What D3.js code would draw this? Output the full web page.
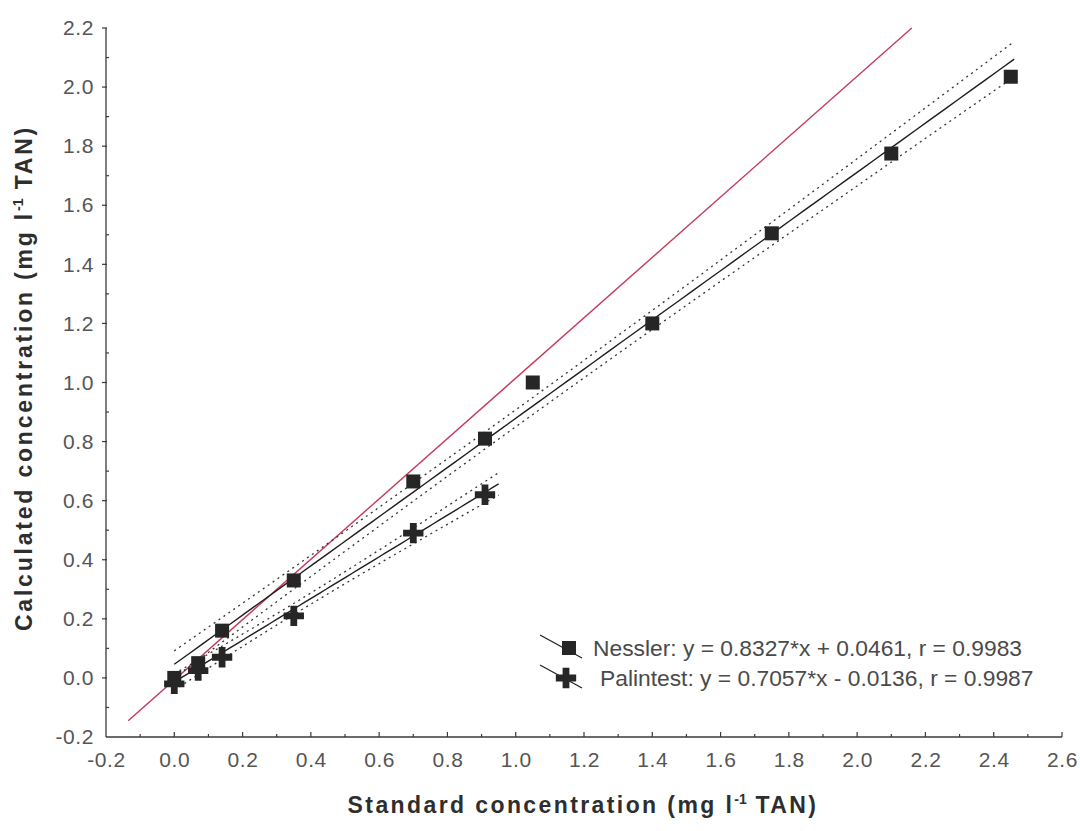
<!DOCTYPE html>
<html>
<head>
<meta charset="utf-8">
<script src="https://cdn.jsdelivr.net/npm/d3@7"></script>
<style>
  html, body { margin: 0; padding: 0; background: #fff; }
  svg { display: block; font-family: "Liberation Sans", Arial, sans-serif; }
</style>
</head>
<body>
<svg id="chart" width="1080" height="831"></svg>
<script>
// Standard (x) vs calculated (y) ammonia concentrations, mg/l TAN
const nesslerX = [0.00, 0.07, 0.14, 0.35, 0.70, 0.91, 1.05, 1.40, 1.75, 2.10, 2.45];
const nesslerY = [0.00, 0.05, 0.16, 0.33, 0.665, 0.81, 1.00, 1.20, 1.505, 1.775, 2.035];
const palintestX = [0.00, 0.07, 0.14, 0.35, 0.70, 0.91];
const palintestY = [-0.02, 0.025, 0.07, 0.21, 0.49, 0.62];

// Fitted regression coefficients [slope, intercept]
const nesslerFit = [0.8327, 0.0461];
const palintestFit = [0.7057, -0.0136];
const fitRangeNessler = [0.0, 2.46];
const fitRangePalintest = [0.0, 0.95];

// Reference (1:1) line end points
const refLineX = [-0.135, 2.16];
const refLineY = [-0.145, 2.2];

const legendLabels = [
  "Nessler: y = 0.8327*x + 0.0461, r = 0.9983",
  "Palintest: y = 0.7057*x - 0.0136, r = 0.9987"
];
const xTicks = [-0.2, 0.0, 0.2, 0.4, 0.6, 0.8, 1.0, 1.2, 1.4, 1.6, 1.8, 2.0, 2.2, 2.4, 2.6];
const yTicks = [-0.2, 0.0, 0.2, 0.4, 0.6, 0.8, 1.0, 1.2, 1.4, 1.6, 1.8, 2.0, 2.2];

const svg = d3.select("#chart");
const x = d3.scaleLinear().domain([-0.2, 2.6]).range([106, 1062]);
const y = d3.scaleLinear().domain([-0.2, 2.2]).range([737, 28]);
const fmt = v => v.toFixed(1).replace("\u2212", "-");

// 95% confidence band of the fitted mean, using residual scatter around the line
const tTable = {4: 2.776, 9: 2.262};
function band(xs, ys, fit) {
  const n = xs.length;
  const xm = d3.mean(xs);
  const sxx = d3.sum(xs, v => (v - xm) * (v - xm));
  const sse = d3.sum(xs, (v, i) => Math.pow(ys[i] - (fit[0] * v + fit[1]), 2));
  const s = Math.sqrt(sse / (n - 2));
  const t = tTable[n - 2];
  return v => t * s * Math.sqrt(1 / n + (v - xm) * (v - xm) / sxx);
}

function drawFit(xs, ys, fit, range) {
  const hw = band(xs, ys, fit);
  const grid = d3.range(range[0], range[1] + 1e-9, (range[1] - range[0]) / 60);
  const line = d3.line().x(d => x(d[0])).y(d => y(d[1]));
  svg.append("path")
    .attr("d", line(grid.map(v => [v, fit[0] * v + fit[1]])))
    .attr("fill", "none").attr("stroke", "#1e1e1e").attr("stroke-width", 1.4);
  [1, -1].forEach(sign => {
    svg.append("path")
      .attr("d", line(grid.map(v => [v, fit[0] * v + fit[1] + sign * hw(v)])))
      .attr("fill", "none").attr("stroke", "#333").attr("stroke-width", 1.3)
      .attr("stroke-dasharray", "2,4");
  });
}

// Axes: left and bottom only
const axisColor = "#3a3a3a";
const labelColor = "#555";

svg.append("line").attr("x1", x(-0.2)).attr("x2", x(2.6)).attr("y1", y(-0.2)).attr("y2", y(-0.2))
  .attr("stroke", axisColor).attr("stroke-width", 1.3);
svg.append("line").attr("x1", x(-0.2)).attr("x2", x(-0.2)).attr("y1", y(-0.2)).attr("y2", y(2.2))
  .attr("stroke", axisColor).attr("stroke-width", 1.3);

const xAxis = d3.axisBottom(x).tickValues(xTicks).tickSize(0).tickPadding(15).tickFormat(fmt);
const gx = svg.append("g").attr("transform", `translate(0,${y(-0.2)})`).call(xAxis);
gx.select(".domain").remove();
gx.selectAll("text").attr("fill", labelColor).attr("font-size", 21).attr("letter-spacing", 0.6)
  .attr("font-family", "Liberation Sans, Arial, sans-serif");

const yAxis = d3.axisLeft(y).tickValues(yTicks).tickSize(0).tickPadding(12).tickFormat(fmt);
const gy = svg.append("g").attr("transform", `translate(${x(-0.2)},0)`).call(yAxis);
gy.select(".domain").remove();
gy.selectAll("text").attr("fill", labelColor).attr("font-size", 21).attr("letter-spacing", 0.6)
  .attr("font-family", "Liberation Sans, Arial, sans-serif");

// tick marks every 0.1
const xMinor = d3.range(-0.1, 2.61, 0.1);
svg.append("g").selectAll("line").data(xMinor).join("line")
  .attr("x1", d => x(d)).attr("x2", d => x(d))
  .attr("y1", y(-0.2)).attr("y2", (d, i) => y(-0.2) - (i % 2 === 1 ? 5 : 3))
  .attr("stroke", axisColor).attr("stroke-width", 1.2);
const yMinor = d3.range(-0.1, 2.21, 0.1);
svg.append("g").selectAll("line").data(yMinor).join("line")
  .attr("y1", d => y(d)).attr("y2", d => y(d))
  .attr("x1", (d, i) => x(-0.2) - (i % 2 === 1 ? 4 : 0)).attr("x2", (d, i) => x(-0.2) + (i % 2 === 1 ? 1 : 3))
  .attr("stroke", axisColor).attr("stroke-width", 1.2);

// Axis titles
const titleColor = "#2e2e2e";
const xt = svg.append("text").attr("x", 583).attr("y", 813).attr("text-anchor", "middle")
  .attr("font-size", 23).attr("font-weight", "bold").attr("fill", titleColor)
  .attr("letter-spacing", 2.4);
xt.append("tspan").text("Standard concentration (mg l");
xt.append("tspan").attr("dy", -9).attr("font-size", 14).attr("letter-spacing", 0).text("-1");
xt.append("tspan").attr("dy", 9).text(" TAN)");

const yt = svg.append("text").attr("transform", "translate(32,378) rotate(-90)")
  .attr("text-anchor", "middle")
  .attr("font-size", 23).attr("font-weight", "bold").attr("fill", titleColor)
  .attr("letter-spacing", 2.8);
yt.append("tspan").text("Calculated concentration (mg l");
yt.append("tspan").attr("dy", -9).attr("font-size", 14).attr("letter-spacing", 0).text("-1");
yt.append("tspan").attr("dy", 9).text(" TAN)");

// 1:1 line
svg.append("line")
  .attr("x1", x(refLineX[0])).attr("y1", y(refLineY[0]))
  .attr("x2", x(refLineX[1])).attr("y2", y(refLineY[1]))
  .attr("stroke", "#c63a5c").attr("stroke-width", 1.4);

// Regression lines with confidence bands
drawFit(nesslerX, nesslerY, nesslerFit, fitRangeNessler);
drawFit(palintestX, palintestY, palintestFit, fitRangePalintest);

// Markers
const markFill = "#262626";
const sq = 14;
svg.append("g").selectAll("rect").data(d3.zip(nesslerX, nesslerY)).join("rect")
  .attr("x", d => x(d[0]) - sq / 2).attr("y", d => y(d[1]) - sq / 2)
  .attr("width", sq).attr("height", sq).attr("fill", markFill);

const plus = d3.symbol().type(d3.symbolCross).size(230);
svg.append("g").selectAll("path").data(d3.zip(palintestX, palintestY)).join("path")
  .attr("transform", d => `translate(${x(d[0])},${y(d[1])})`)
  .attr("d", plus).attr("fill", markFill);

// Legend
const legend = svg.append("g");
const rows = [
  {yc: 648, mark: "square", tx: 593},
  {yc: 678, mark: "plus", tx: 600}
];
rows.forEach((r, i) => {
  legend.append("line").attr("x1", 540).attr("y1", r.yc - 13).attr("x2", 582).attr("y2", r.yc + 10)
    .attr("stroke", "#222").attr("stroke-width", 1.3);
  if (r.mark === "square") {
    legend.append("rect").attr("x", 562).attr("y", r.yc - 7).attr("width", 14).attr("height", 14).attr("fill", markFill);
  } else {
    legend.append("path").attr("transform", `translate(566,${r.yc})`).attr("d", plus).attr("fill", markFill);
  }
  legend.append("text").attr("x", r.tx).attr("y", r.yc).attr("dy", "0.35em")
    .attr("font-size", 22.8).attr("fill", "#4a4a4a").text(legendLabels[i]);
});
</script>
</body>
</html>
